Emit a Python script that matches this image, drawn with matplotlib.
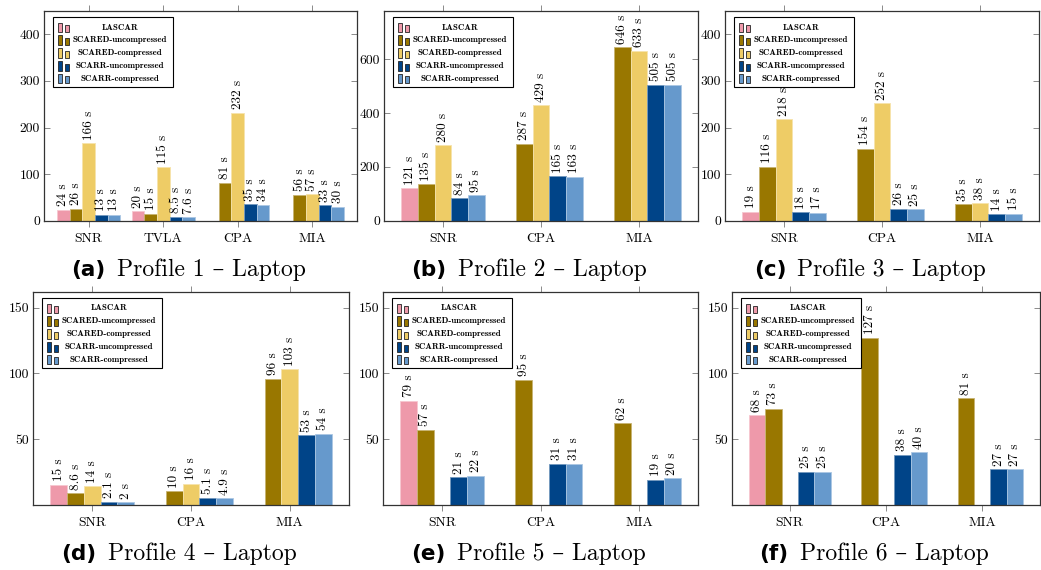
import matplotlib
matplotlib.use("Agg")
import matplotlib.pyplot as plt
import numpy as np
from matplotlib.patches import Rectangle
from matplotlib.offsetbox import TextArea, HPacker, AnnotationBbox
from matplotlib.colors import to_rgb

plt.rcParams['font.family'] = ['cmr10', 'DejaVu Serif']
plt.rcParams['axes.formatter.use_mathtext'] = True

nan = np.nan

# data: runtimes in seconds, one row per tool
series = ["LASCAR", "SCARED-uncompressed", "SCARED-compressed",
          "SCARR-uncompressed", "SCARR-compressed"]
colors = ["#EE99AA", "#997700", "#EECC66", "#004488", "#6699CC"]

cats_p1 = ["SNR", "TVLA", "CPA", "MIA"]
cats = ["SNR", "CPA", "MIA"]

p1_times = [[24, 20, nan, nan],
            [26, 15, 81, 56],
            [166, 115, 232, 57],
            [13, 8.5, 35, 33],
            [13, 7.6, 34, 30]]
p2_times = [[121, nan, nan],
            [135, 287, 646],
            [280, 429, 633],
            [84, 165, 505],
            [95, 163, 505]]
p3_times = [[19, nan, nan],
            [116, 154, 35],
            [218, 252, 38],
            [18, 26, 14],
            [17, 25, 15]]
p4_times = [[15, nan, nan],
            [8.6, 10, 96],
            [14, 16, 103],
            [2.1, 5.1, 53],
            [2, 4.9, 54]]
p5_times = [[79, nan, nan],
            [57, 95, 62],
            [nan, nan, nan],
            [21, 31, 19],
            [22, 31, 20]]
p6_times = [[68, nan, nan],
            [73, 127, 81],
            [nan, nan, nan],
            [25, 38, 27],
            [25, 40, 27]]

W, H = 1041, 570
fig = plt.figure(figsize=(W / 100, H / 100), dpi=100)

# axes boxes in pixels: left, top, right, bottom
panels = [
    ("a", 1, cats_p1, p1_times, (44, 11, 357, 220.7), 450, [0, 100, 200, 300, 400]),
    ("b", 2, cats, p2_times, (384, 11, 698, 220.7), 780, [0, 200, 400, 600]),
    ("c", 3, cats, p3_times, (725, 11, 1039, 220.7), 450, [0, 100, 200, 300, 400]),
    ("d", 4, cats, p4_times, (33, 292, 349, 504.6), 162, [50, 100, 150]),
    ("e", 5, cats, p5_times, (383, 292, 698, 504.6), 162, [50, 100, 150]),
    ("f", 6, cats, p6_times, (732, 292, 1040, 504.6), 162, [50, 100, 150]),
]

bw = 0.17


def lighten(c, f=0.45):
    r, g, b = to_rgb(c)
    return (r + (1 - r) * f, g + (1 - g) * f, b + (1 - b) * f)


def draw_legend(ax, box):
    l, t, r, b = box
    aw, ah = r - l, b - t

    def fx(px):
        return px / aw

    def fy(py):
        return 1 - py / ah

    bx, by, bwid, bh = 9, 6, 119.5, 69.5
    ax.add_patch(Rectangle((fx(bx), fy(by + bh)), fx(bwid), bh / ah,
                           transform=ax.transAxes, facecolor="white",
                           edgecolor="black", lw=0.8, zorder=5, clip_on=False))
    for i, (name, col) in enumerate(zip(series, colors)):
        cy = by + 10.5 + i * 12.85
        ax.add_patch(Rectangle((fx(bx + 4.5), fy(cy + 4.5)), fx(4), 9.5 / ah,
                               transform=ax.transAxes, facecolor=col,
                               edgecolor="#222222", lw=0.6, zorder=6))
        ax.add_patch(Rectangle((fx(bx + 12.3), fy(cy + 4.5)), fx(4), 7 / ah,
                               transform=ax.transAxes, facecolor=col,
                               edgecolor="#222222", lw=0.6, zorder=6))
        ax.text(fx(bx + 67), fy(cy), name, transform=ax.transAxes,
                ha="center", va="center", fontsize=6.4,
                family=["cmb10", "DejaVu Serif"], zorder=7)


for letter, num, cat, times, box, ymax, yt in panels:
    l, t, r, b = box
    ax = fig.add_axes([l / W, 1 - b / H, (r - l) / W, (b - t) / H])
    x = np.arange(len(cat))
    for i, (vals, col) in enumerate(zip(times, colors)):
        vals = np.array(vals, dtype=float)
        pos = x + (i - 2) * bw
        ax.bar(pos, vals, width=bw, color=col, edgecolor=lighten(col),
               linewidth=0.6, zorder=2)
        for xp, v in zip(pos, vals):
            if np.isnan(v):
                continue
            ax.annotate(f"{v:g} s", (xp, v), xytext=(0, 2.5),
                        textcoords="offset points", rotation=90,
                        ha="center", va="bottom", fontsize=9.5, zorder=3)
    ax.set_xlim(-0.6, len(cat) - 1 + 0.6)
    ax.set_ylim(0, ymax)
    ax.set_xticks(x)
    ax.set_xticklabels(cat)
    ax.set_yticks(yt)
    ax.set_yticklabels([str(v) for v in yt])
    ax.tick_params(axis="x", direction="out", top=True, bottom=True,
                   length=4, width=0.6, color="#777777", labelsize=9.8, pad=5)
    ax.tick_params(axis="y", direction="in", left=True, right=True,
                   length=4, width=0.6, color="#777777", labelsize=9.8, pad=3)
    for s in ax.spines.values():
        s.set_color("#333333")
        s.set_linewidth(0.9)
    draw_legend(ax, box)

    # sub-caption below each panel
    cap = HPacker(children=[
        TextArea(f"({letter})", textprops=dict(family="DejaVu Sans",
                                                weight="bold", size=15.5)),
        TextArea(f"Profile {num} – Laptop",
                 textprops=dict(family=["cmr10", "DejaVu Serif"], size=17)),
    ], sep=8, align="baseline", pad=0)
    cx = (l + r) / 2 - 12
    cy = 270 if t < 100 else 554
    ab = AnnotationBbox(cap, (cx / W, 1 - cy / H), xycoords="figure fraction",
                        frameon=False, box_alignment=(0.5, 0.5))
    fig.add_artist(ab)

fig.savefig("out.png", dpi=100)
